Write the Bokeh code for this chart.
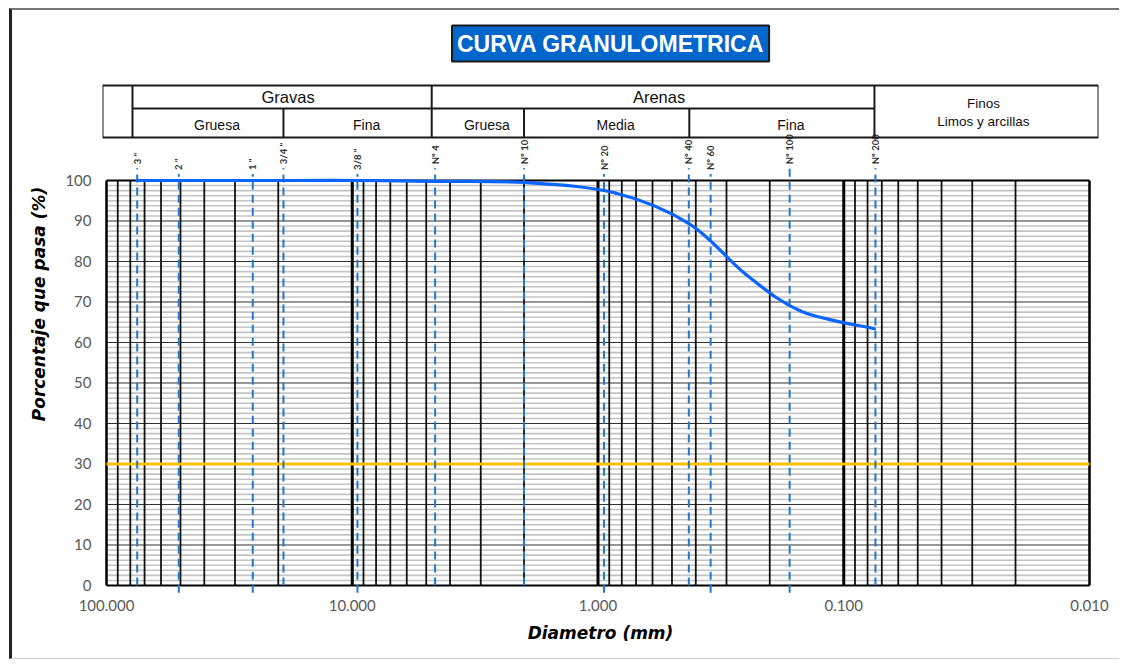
import numpy as np
from bokeh.plotting import figure
from bokeh.models import Range1d, FixedTicker, PrintfTickFormatter, Label
from bokeh.embed import file_html
from bokeh.resources import INLINE
from bokeh.core.properties import value

# ---------------- data ----------------
sieve_names = ['3 "', '2 "', '1 "', '3/4 "', '3/8 "', "Nº 4", "Nº 10",
               "Nº 20", "Nº 40", "Nº 60", "Nº 100", "Nº 200"]
# openings of the sieves (mm) used for the test results
sieve_mm = [75.0, 50.8, 25.4, 19.05, 9.525, 4.75, 2.0,
            0.85, 0.425, 0.25, 0.15, 0.075]
# % passing
passing_pct = [100, 100, 100, 100, 100, 99.8, 99.5,
               96.9, 89.3, 76.8, 67.8, 63.4]
# where the reference chart draws each sieve's dashed marker line (mm)
sieve_line_mm = [75.0, 50.8, 25.4, 19.05, 9.525, 4.6, 2.0,
                 0.945, 0.427, 0.348, 0.166, 0.0743]
x_ticks = [100, 10, 1, 0.1, 0.01]
y_ticks = list(range(0, 101, 10))
limit_pct = 30
zone_top = ["Gravas", "Arenas"]
zone_sub = ["Gruesa", "Fina", "Gruesa", "Media", "Fina"]
fines_text = ["Finos", "Limos y arcillas"]
title_text = "CURVA GRANULOMETRICA"

# ---------------- layout constants ----------------
X_LEFT, X_RIGHT = 103.82, 0.009191
Y_BOT, Y_TOP = -2.963, 141.975
T_TOP, T_MID, T_BOT = 123.46, 117.78, 110.62
LEFT_COL = 78.4

p = figure(width=1110, height=651, x_axis_type="log",
           x_range=Range1d(X_LEFT, X_RIGHT), y_range=Range1d(Y_BOT, Y_TOP),
           output_backend="svg", toolbar_location=None,
           min_border_left=90, min_border_right=24, min_border_top=0,
           min_border_bottom=64)
p.outline_line_color = None
p.xgrid.visible = False
p.ygrid.visible = False
p.styles = {"margin-left": "9px", "margin-top": "8px",
            "border-left": "3px solid #222", "border-top": "2px solid #777",
            "border-bottom": "1px solid #d0d0d0"}

# axes
p.xaxis.ticker = FixedTicker(ticks=x_ticks)
p.xaxis.formatter = PrintfTickFormatter(format="%.3f")
p.yaxis.ticker = FixedTicker(ticks=y_ticks)
for ax in (p.xaxis[0], p.yaxis[0]):
    ax.axis_line_color = None
    ax.major_tick_line_color = None
    ax.minor_tick_line_color = None
    ax.major_tick_in = 0
    ax.major_tick_out = 0
    ax.major_label_text_font = "Lato"
    ax.major_label_text_font_size = "15px"
    ax.major_label_text_color = "#595959"
    ax.axis_label_text_font = "DejaVu Sans"
    ax.axis_label_text_font_style = "bold italic"
    ax.axis_label_text_font_size = "17px"
    ax.axis_label_text_color = "#000000"
p.xaxis.major_label_standoff = 2
p.yaxis.major_label_standoff = 11
p.xaxis.axis_label = "Diametro (mm)"
p.yaxis.axis_label = "Porcentaje que pasa (%)"
p.xaxis.axis_label_standoff = 9
p.yaxis.axis_label_standoff = 13

# ---------------- grid ----------------
x_lo, x_hi = x_ticks[0], x_ticks[-1]
hminor = [v for v in np.arange(0, 100.01, 1.25) if abs(v % 10) > 1e-6]
p.segment(x0=[x_lo] * len(hminor), y0=hminor, x1=[x_hi] * len(hminor), y1=hminor,
          line_color="#c4c4c4", line_width=1.6)
hmajor = list(range(10, 100, 10))
p.segment(x0=[x_lo] * len(hmajor), y0=hmajor, x1=[x_hi] * len(hmajor), y1=hmajor,
          line_color="#303030", line_width=1)
decs = [0.01, 0.1, 1, 10]
vminor = [k * d for d in decs for k in range(2, 10)]
p.segment(x0=vminor, y0=[0] * len(vminor), x1=vminor, y1=[100] * len(vminor),
          line_color="#111111", line_width=1.8)
vmajor = [0.1, 1, 10]
p.segment(x0=vmajor, y0=[0] * 3, x1=vmajor, y1=[100] * 3,
          line_color="#000000", line_width=3)
p.segment(x0=[x_lo, x_hi], y0=[0, 0], x1=[x_lo, x_hi], y1=[100, 100],
          line_color="#000000", line_width=2.5)
p.segment(x0=[x_lo, x_lo], y0=[0, 100], x1=[x_hi, x_hi], y1=[0, 100],
          line_color="#000000", line_width=1.8)

# limit line (orange)
p.segment(x0=[x_lo], y0=[limit_pct], x1=[x_hi], y1=[limit_pct],
          line_color="#FFC000", line_width=3)

# ---------------- sieve dashed lines and labels ----------------
low = [False, True, True, False, True, False, False, True, False, True, False, False]
below = [False, True, True, False, True, False, False, True, False, True, True, False]
dash_top = [101.6 if l else 103.0 for l in low]
dash_bot = [-1.8 if b else 0 for b in below]
lab_y = [102.6 if l else 104.0 for l in low]
p.segment(x0=sieve_line_mm, y0=dash_bot, x1=sieve_line_mm, y1=dash_top,
          line_color="#1f78c8", line_width=2, line_dash="8 5")
p.text(x=sieve_line_mm, y=lab_y, text=sieve_names, angle=np.pi / 2,
       text_align="left", text_baseline="middle",
       text_font=value("Lato"), text_font_size="9.5px", text_font_style="bold",
       text_color="#333333")

# ---------------- grading curve (smoothed like Excel) ----------------
lx = np.log10(np.array(sieve_mm, dtype=float))
yy = np.array(passing_pct, dtype=float)
P = np.column_stack([lx, yy])
Pe = np.vstack([P[0], P, P[-1]])
n = len(P)
c0 = np.array([P[i] + (P[i + 1] - Pe[i]) / 6 for i in range(n - 1)])
c1 = np.array([P[i + 1] - (Pe[i + 3] - P[i]) / 6 for i in range(n - 1)])
p.bezier(x0=10 ** P[:-1, 0], y0=P[:-1, 1], x1=10 ** P[1:, 0], y1=P[1:, 1],
         cx0=10 ** c0[:, 0], cy0=c0[:, 1], cx1=10 ** c1[:, 0], cy1=c1[:, 1],
         line_color="#0A64FF", line_width=3.2, line_cap="round")

# ---------------- classification table ----------------
b_g = [LEFT_COL, sieve_mm[5]]
b_a = [sieve_mm[5], sieve_mm[11]]
sub_b = [LEFT_COL, sieve_mm[3], sieve_mm[5], sieve_mm[6], sieve_mm[8], sieve_mm[11]]
p.segment(x0=[X_LEFT, X_LEFT, X_LEFT, X_RIGHT], y0=[T_TOP, T_BOT, T_BOT, T_BOT],
          x1=[X_RIGHT, X_RIGHT, X_LEFT, X_RIGHT], y1=[T_TOP, T_BOT, T_TOP, T_TOP],
          line_color="#1a1a1a", line_width=2)
full = [LEFT_COL, sieve_mm[5], sieve_mm[11]]
p.segment(x0=full, y0=[T_BOT] * 3, x1=full, y1=[T_TOP] * 3,
          line_color="#1a1a1a", line_width=2)
p.segment(x0=[LEFT_COL], y0=[T_MID], x1=[sieve_mm[11]], y1=[T_MID],
          line_color="#1a1a1a", line_width=2)
lowdiv = [sieve_mm[3], sieve_mm[6], sieve_mm[8]]
p.segment(x0=lowdiv, y0=[T_BOT] * 3, x1=lowdiv, y1=[T_MID] * 3,
          line_color="#1a1a1a", line_width=2)

top_x = [np.sqrt(b_g[0] * b_g[1]), np.sqrt(b_a[0] * b_a[1])]
p.text(x=top_x, y=[(T_TOP + T_MID) / 2] * 2, text=zone_top, x_offset=6,
       text_align="center", text_baseline="middle",
       text_font=value("Liberation Sans"), text_font_size="16.5px", text_color="#111111")
sub_x = [np.sqrt(sub_b[i] * sub_b[i + 1]) for i in range(5)]
p.text(x=sub_x, y=[(T_MID + T_BOT) / 2 - 0.4] * 5, text=zone_sub, x_offset=9,
       text_align="center", text_baseline="middle",
       text_font=value("Liberation Sans"), text_font_size="14px", text_color="#111111")
fx = np.sqrt(sieve_mm[11] * X_RIGHT)
p.text(x=[fx, fx], y=[119.0, 114.6], text=fines_text, x_offset=-3,
       text_align="center", text_baseline="middle",
       text_font=value("Liberation Sans"), text_font_size="13.5px", text_color="#111111")

# ---------------- title box ----------------
p.add_layout(Label(x=0.889, y=133.8, text=title_text, text_align="center",
                   text_baseline="middle", text_color="white",
                   text_font="Liberation Sans", text_font_style="bold",
                   text_font_size="23px", background_fill_color="#0066CC",
                   border_line_color="#1a1a1a", border_line_width=2, padding=5))

open("out.html", "w").write(file_html(p, INLINE))
